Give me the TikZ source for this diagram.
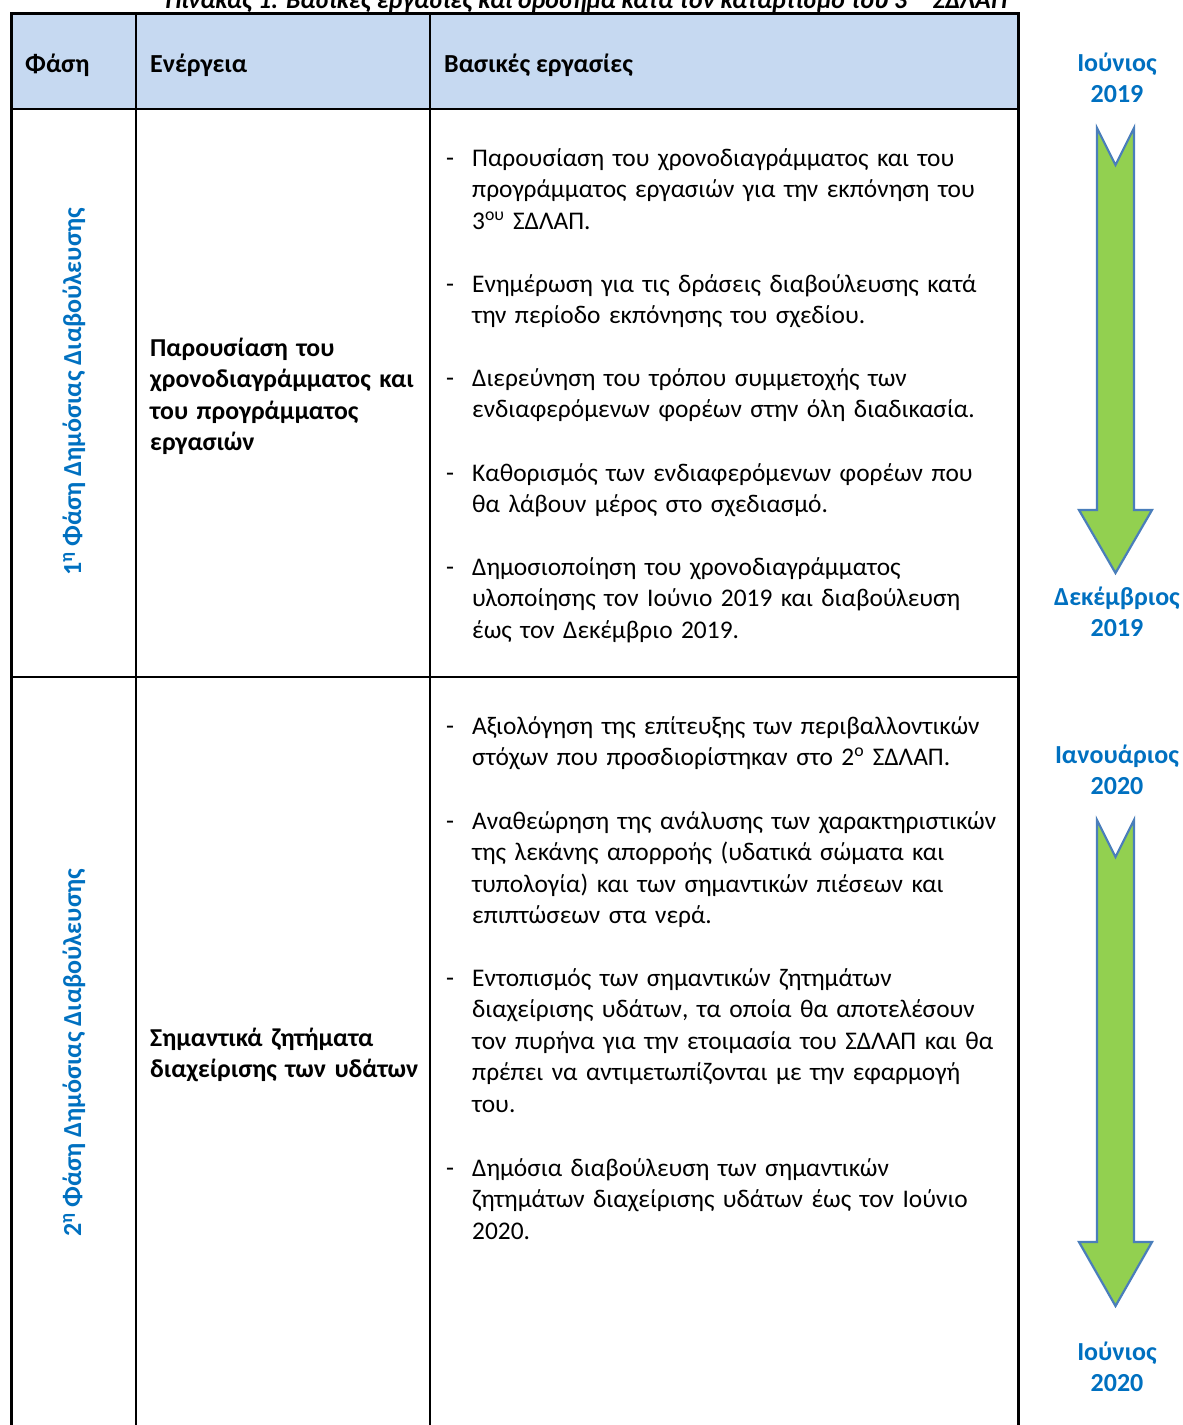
\documentclass[tikz,border=0pt]{standalone}
\usepackage{fontspec}
\setmainfont{Carlito}
\definecolor{hdrfill}{HTML}{C6D9F1}
\definecolor{phblue}{HTML}{0070C0}
\definecolor{arrgreen}{HTML}{92D050}
\definecolor{arredge}{HTML}{4A7EBB}
\begin{document}
\begin{tikzpicture}[x=1pt,y=-1pt,
  bodyfont/.style={font=\fontsize{25.4}{31.6}\selectfont},
  bodytext/.style={bodyfont, inner sep=0pt, anchor=base west, text width=545pt, align=left},
  dashmark/.style={font=\fontsize{26}{31.6}\selectfont, inner sep=0pt, anchor=base west},
  midtext/.style={font=\fontsize{25.8}{31.6}\selectfont\bfseries, inner sep=0pt, anchor=base west, text width=275pt, align=left},
  hdrtext/.style={font=\fontsize{26}{31.6}\selectfont\bfseries, inner sep=0pt, anchor=base west},
  phasetext/.style={font=\fontsize{26}{31.6}\selectfont\bfseries, text=phblue, inner sep=0pt, rotate=90},
  datetext/.style={font=\fontsize{26}{31.2}\selectfont\bfseries, text=phblue, inner sep=0pt, anchor=base, text width=160pt, align=center},
  bigarrow/.style={fill=arrgreen, draw=arredge, line width=2.2pt, line join=miter},
  thinrule/.style={line width=2pt},
  thickrule/.style={line width=3pt}]
\useasboundingbox (0,0) rectangle (1183,1425);

% title (cut at top, as in the reference)
\node[font=\fontsize{25.7}{30}\selectfont\bfseries\itshape, inner sep=0pt, anchor=base] (title) at (586,8)
  {Πίνακας 1: Βασικές εργασίες και ορόσημα κατά τον καταρτισμό του 3\textsuperscript{ου} ΣΔΛΑΠ};

% table
\fill[hdrfill] (11,13) rectangle (1018,109);
\draw[thinrule] (11,109) -- (1018,109);
\draw[thinrule] (11,677) -- (1018,677);
\draw[thinrule] (136,13) -- (136,1440);
\draw[thinrule] (430,13) -- (430,1440);
\draw[thickrule, line join=miter] (11,1440) -- (11,13) -- (1018,13) -- (1018,1440);

% header
\node[hdrtext] (h1) at (25,72) {Φάση};
\node[hdrtext] (h2) at (150,72) {Ενέργεια};
\node[hdrtext] (h3) at (444,72) {Βασικές εργασίες};

% phase labels
\node[phasetext] (ph1) at (74,392) {1\textsuperscript{η} Φάση Δημόσιας Διαβούλευσης};
\node[phasetext] (ph2) at (74,1053) {2\textsuperscript{η} Φάση Δημόσιας Διαβούλευσης};

% action column
\node[midtext] (act1) at (150,356) {Παρουσίαση του\\χρονοδιαγράμματος και\\του προγράμματος\\εργασιών};
\node[midtext] (act2) at (150,1046) {Σημαντικά ζητήματα\\διαχείρισης των υδάτων};

% tasks row 1
\node[dashmark] (d11) at (446,166) {-};
\node[bodytext] (t11) at (472,166) {Παρουσίαση του χρονοδιαγράμματος και του\\προγράμματος εργασιών για την εκπόνηση του\\3\textsuperscript{ου} ΣΔΛΑΠ.};
\node[dashmark] (d12) at (446,292) {-};
\node[bodytext] (t12) at (472,292) {Ενημέρωση για τις δράσεις διαβούλευσης κατά\\την περίοδο εκπόνησης του σχεδίου.};
\node[dashmark] (d13) at (446,386) {-};
\node[bodytext] (t13) at (472,386) {Διερεύνηση του τρόπου συμμετοχής των\\ενδιαφερόμενων φορέων στην όλη διαδικασία.};
\node[dashmark] (d14) at (446,481) {-};
\node[bodytext] (t14) at (472,481) {Καθορισμός των ενδιαφερόμενων φορέων που\\θα λάβουν μέρος στο σχεδιασμό.};
\node[dashmark] (d15) at (446,575) {-};
\node[bodytext] (t15) at (472,575) {Δημοσιοποίηση του χρονοδιαγράμματος\\υλοποίησης τον Ιούνιο 2019 και διαβούλευση\\έως τον Δεκέμβριο 2019.};

% tasks row 2
\node[dashmark] (d21) at (446,734) {-};
\node[bodytext] (t21) at (472,734) {Αξιολόγηση της επίτευξης των περιβαλλοντικών\\στόχων που προσδιορίστηκαν στο 2\textsuperscript{ο} ΣΔΛΑΠ.};
\node[dashmark] (d22) at (446,829) {-};
\node[bodytext] (t22) at (472,829) {Αναθεώρηση της ανάλυσης των χαρακτηριστικών\\της λεκάνης απορροής (υδατικά σώματα και\\τυπολογία) και των σημαντικών πιέσεων και\\επιπτώσεων στα νερά.};
\node[dashmark] (d23) at (446,986) {-};
\node[bodytext] (t23) at (472,986) {Εντοπισμός των σημαντικών ζητημάτων\\διαχείρισης υδάτων, τα οποία θα αποτελέσουν\\τον πυρήνα για την ετοιμασία του ΣΔΛΑΠ και θα\\πρέπει να αντιμετωπίζονται με την εφαρμογή\\του.};
\node[dashmark] (d24) at (446,1176) {-};
\node[bodytext] (t24) at (472,1176) {Δημόσια διαβούλευση των σημαντικών\\ζητημάτων διαχείρισης υδάτων έως τον Ιούνιο\\2020.};

% dates
\node[datetext] (dt1) at (1117,71) {Ιούνιος\\2019};
\node[datetext] (dt2) at (1117,605) {Δεκέμβριος\\2019};
\node[datetext] (dt3) at (1117,763) {Ιανουάριος\\2020};
\node[datetext] (dt4) at (1117,1360) {Ιούνιος\\2020};

% arrows
\draw[bigarrow] (1097,128) -- (1115.5,165) -- (1134,128) -- (1134,510) -- (1152,510)
  -- (1115.5,573) -- (1079,510) -- (1097,510) -- cycle;
\draw[bigarrow] (1097,820) -- (1115.5,857) -- (1134,820) -- (1134,1242) -- (1152,1242)
  -- (1115.5,1306) -- (1079,1242) -- (1097,1242) -- cycle;
\end{tikzpicture}
\end{document}
